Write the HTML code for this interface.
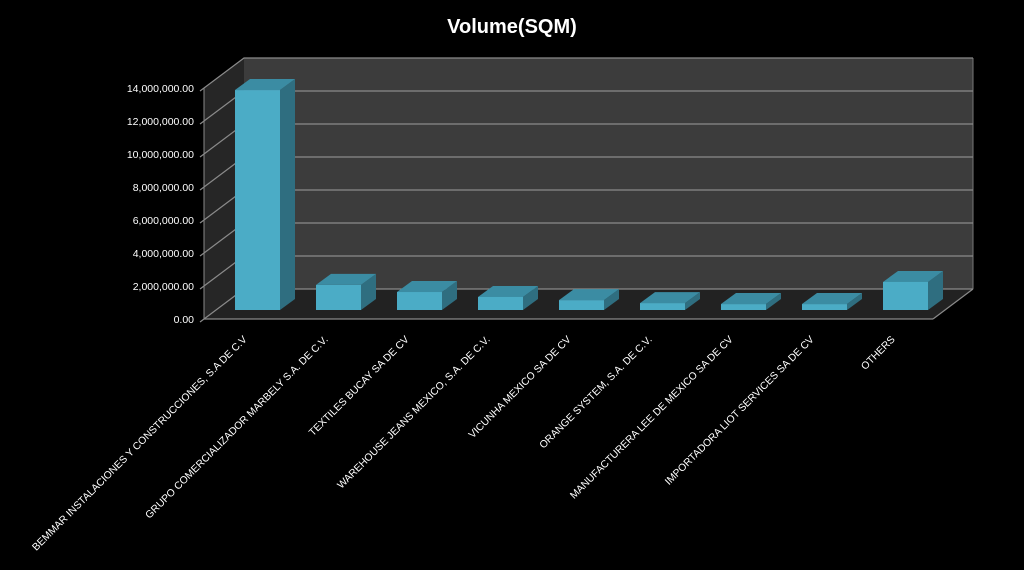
<!DOCTYPE html>
<html><head><meta charset="utf-8"><style>
html,body{margin:0;padding:0;background:#000;}
svg{display:block;font-family:"Liberation Sans",sans-serif;}
</style></head><body>
<svg id="chart" width="1024" height="570" viewBox="0 0 1024 570">
<rect x="0" y="0" width="1024" height="570" fill="#000"/>
<text x="512" y="33" text-anchor="middle" fill="#fff" font-size="20" font-weight="bold">Volume(SQM)</text>
<g id="walls"></g><g id="bars"></g><g id="labels"></g>
</svg>
<script>
const categories=["BEMMAR INSTALACIONES Y CONSTRUCCIONES,  S.A DE C.V","GRUPO COMERCIALIZADOR MARBELY S.A. DE C.V.","TEXTILES BUCAY SA DE CV","WAREHOUSE JEANS MEXICO, S.A. DE C.V.","VICUNHA MEXICO SA DE CV","ORANGE SYSTEM,  S.A. DE C.V.","MANUFACTURERA  LEE DE MEXICO SA DE CV","IMPORTADORA LIOT SERVICES  SA DE CV","OTHERS"];
const values=[13330000,1520000,1090000,790000,600000,420000,360000,360000,1700000];
const tickValues=[0,2000000,4000000,6000000,8000000,10000000,12000000,14000000];
const tickLabels=["0.00","2,000,000.00","4,000,000.00","6,000,000.00","8,000,000.00","10,000,000.00","12,000,000.00","14,000,000.00"];
const NS="http://www.w3.org/2000/svg";
const X0=204,X1=933,Y0=319,YTOP=88,DX=40,DY=-30,MAX=14000000;
function yScale(v,off){return Y0+off-(v/MAX)*(Y0-YTOP);}
function mk(tag,attrs,parent){const e=document.createElementNS(NS,tag);for(const k in attrs)e.setAttribute(k,attrs[k]);parent.appendChild(e);return e;}
const walls=document.getElementById('walls'),bars=document.getElementById('bars'),labels=document.getElementById('labels');
let w=mk('polygon',{points:`${X0+DX},${YTOP+DY} ${X1+DX},${YTOP+DY} ${X1+DX},${Y0+DY} ${X0+DX},${Y0+DY}`,fill:'#3c3c3c'},walls);

let s=mk('polygon',{points:`${X0},${YTOP} ${X0+DX},${YTOP+DY} ${X0+DX},${Y0+DY} ${X0},${Y0}`,fill:'#262626'},walls);

let f=mk('polygon',{points:`${X0},${Y0} ${X0+DX},${Y0+DY} ${X1+DX},${Y0+DY} ${X1},${Y0}`,fill:'#222'},walls);

mk('line',{x1:X1+DX,y1:YTOP+DY,x2:X1+DX,y2:Y0+DY,stroke:'#777','stroke-width':1},walls);
tickValues.forEach((v,i)=>{const y=yScale(v,0);
 const g=mk('polyline',{points:`${X0-4},${y+3} ${X0},${y} ${X0+DX},${y+DY} ${X1+DX},${y+DY}`,fill:'none',stroke:'#8a8a8a','stroke-width':1.2},walls);
 
 const t=mk('text',{x:194,y:y+4,'text-anchor':'end',fill:'#fff','font-size':10.5},walls);t.textContent=tickLabels[i];
 });
mk('line',{x1:X0,y1:Y0,x2:X1,y2:Y0,stroke:'#8a8a8a','stroke-width':1.2},walls);
mk('line',{x1:X1,y1:Y0,x2:X1+DX,y2:Y0+DY,stroke:'#8a8a8a','stroke-width':1.2},walls);
mk('line',{x1:X0,y1:YTOP,x2:X0,y2:Y0,stroke:'#8a8a8a','stroke-width':1},walls);
const step=(X1-X0)/categories.length,bw=45,bdx=15,bdy=-11,off=-9;
categories.forEach((c,i)=>{
 const cx=X0+step*(i+0.5),x=cx-9.5,yb=Y0+off,yt=yScale(values[i],off);
 const g=mk('g',{},bars);
 mk('polygon',{points:`${x+bw},${yt} ${x+bw+bdx},${yt+bdy} ${x+bw+bdx},${yb+bdy} ${x+bw},${yb}`,fill:'#2f6e80'},g);
 mk('polygon',{points:`${x},${yt} ${x+bdx},${yt+bdy} ${x+bw+bdx},${yt+bdy} ${x+bw},${yt}`,fill:'#3b8ca3'},g);
 mk('rect',{x:x,y:yt,width:bw,height:yb-yt,fill:'#4bacc6'},g);
 const lx=cx+3,ly=340;
 const t=mk('text',{x:lx,y:ly,'text-anchor':'end',fill:'#fff','font-size':10.3,transform:`rotate(-45 ${lx} ${ly})`},labels);
 t.textContent=c;
});
</script>
</body></html>
